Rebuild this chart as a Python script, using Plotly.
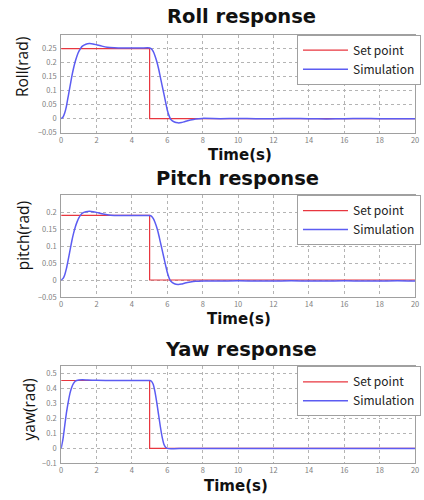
import plotly.graph_objects as go

# ---------------- data ----------------
t_set = [0, 5, 5, 20]
roll_set = [0.25, 0.25, 0, 0]
pitch_set = [0.19, 0.19, 0, 0]
yaw_set = [0.455, 0.455, 0, 0]

t_roll = [0, 0.1, 0.2, 0.3, 0.4, 0.5, 0.6, 0.7, 0.8, 0.9, 1.0, 1.1, 1.2, 1.4, 1.6,
          1.8, 2.0, 2.3, 2.6, 3.0, 3.5, 4.0, 4.5, 4.9, 5.0, 5.1, 5.2, 5.3, 5.4,
          5.5, 5.6, 5.7, 5.8, 5.9, 6.0, 6.1, 6.2, 6.4, 6.6, 6.8, 7.0, 7.3, 7.6,
          8.0, 9, 10, 11, 12, 13, 14, 15, 16, 17, 18, 19, 20]
roll_sim = [0, 0.005, 0.02, 0.045, 0.08, 0.115, 0.15, 0.18, 0.205, 0.225, 0.24,
            0.251, 0.259, 0.266, 0.268, 0.267, 0.264, 0.259, 0.255, 0.253, 0.252,
            0.252, 0.252, 0.253, 0.252, 0.249, 0.24, 0.225, 0.205, 0.18, 0.15,
            0.12, 0.09, 0.06, 0.03, 0.01, -0.003, -0.012, -0.015, -0.014, -0.01,
            -0.005, -0.001, 0.001, 0.0, 0.001, 0.0, 0.0, 0.001, 0.0, -0.001, 0.0,
            0.001, 0.0, 0.0, 0.0]

t_pitch = t_roll
pitch_sim = [0, 0.004, 0.015, 0.034, 0.06, 0.087, 0.114, 0.137, 0.156, 0.171,
             0.183, 0.191, 0.197, 0.201, 0.202, 0.201, 0.199, 0.195, 0.192, 0.19,
             0.19, 0.19, 0.19, 0.19, 0.19, 0.188, 0.181, 0.17, 0.155, 0.136, 0.113,
             0.09, 0.067, 0.044, 0.022, 0.006, -0.004, -0.011, -0.013, -0.012,
             -0.009, -0.006, -0.004, -0.003, -0.003, -0.002, -0.003, -0.003, -0.002,
             -0.003, -0.003, -0.002, -0.003, -0.003, -0.002, -0.003]

t_yaw = [0, 0.1, 0.2, 0.3, 0.4, 0.5, 0.6, 0.7, 0.8, 1.0, 1.2, 1.5, 2.0, 3.0, 4.0,
         4.9, 5.0, 5.1, 5.2, 5.3, 5.4, 5.5, 5.6, 5.7, 5.8, 5.9, 6.0, 6.2, 7, 8, 9,
         10, 11, 12, 13, 14, 15, 16, 17, 18, 19, 20]
yaw_sim = [0, 0.06, 0.15, 0.24, 0.31, 0.37, 0.41, 0.435, 0.45, 0.458, 0.46, 0.458,
           0.456, 0.455, 0.455, 0.455, 0.455, 0.45, 0.43, 0.38, 0.31, 0.23, 0.15,
           0.08, 0.03, 0.008, 0.0, -0.002, 0.0, -0.001, 0.0, 0.0, -0.001, 0.0, 0.0,
           -0.001, 0.0, 0.0, 0.0, -0.001, 0.0, 0.0]

x_ticks = [0, 2, 4, 6, 8, 10, 12, 14, 16, 18, 20]
roll_ticks = [-0.05, 0, 0.05, 0.1, 0.15, 0.2, 0.25]
pitch_ticks = [-0.05, 0, 0.05, 0.1, 0.15, 0.2]
yaw_ticks = [-0.1, 0, 0.1, 0.2, 0.3, 0.4, 0.5]

titles = ["Roll response", "Pitch response", "Yaw response"]
ylabels = ["Roll(rad)", "pitch(rad)", "yaw(rad)"]

# ---------------- layout helpers (pixels) ----------------
W, H = 424, 500
FONT = "Noto Sans CJK KR"
TFONT = "DejaVu Sans"
LFONT = "Open Sans"
RED = "#e8363f"
BLUE = "#5c5cf2"

def px(x):
    return x / W

def py(y):
    return 1 - y / H

panels = [
    dict(top=35, bottom=134, yr=[-0.05, 0.3], yt=roll_ticks, t=t_roll, sim=roll_sim,
         sp=roll_set, title_y=17, title_x=243, xt_y=157, xt_x=241, yl_x=21, yl_y=68),
    dict(top=197, bottom=300, yr=[-0.05, 0.25], yt=pitch_ticks, t=t_pitch, sim=pitch_sim,
         sp=pitch_set, title_y=180, title_x=239, xt_y=322, xt_x=240, yl_x=21, yl_y=238),
    dict(top=370, bottom=468, yr=[-0.1, 0.55], yt=yaw_ticks, t=t_yaw, sim=yaw_sim,
         sp=yaw_set, title_y=353, title_x=242, xt_y=491, xt_x=237, yl_x=27, yl_y=414),
]

fig = go.Figure()
annotations = []
layout = dict(width=W, height=H, margin=dict(l=0, r=0, t=0, b=0),
              paper_bgcolor="white", plot_bgcolor="white", font=dict(family=FONT))

for i, p in enumerate(panels):
    n = "" if i == 0 else str(i + 1)
    xa, ya = "x" + n, "y" + n
    leg = "legend" + n
    fig.add_trace(go.Scatter(x=t_set, y=p["sp"], mode="lines", name="Set point",
                             line=dict(color=RED, width=1.2), xaxis=xa, yaxis=ya,
                             legend=leg))
    fig.add_trace(go.Scatter(x=p["t"], y=p["sim"], mode="lines", name="Simulation",
                             line=dict(color=BLUE, width=1.5, shape="spline",
                                       smoothing=0.5),
                             xaxis=xa, yaxis=ya, legend=leg))
    axis_common = dict(showgrid=True, gridcolor="#b4b4b4", griddash="dot", gridwidth=1,
                       showline=True, linecolor="#a0a0a0", linewidth=1, mirror=True,
                       zeroline=False, ticks="", tickfont=dict(size=7.5, color="#808080"))
    layout["xaxis" + n] = dict(domain=[px(60), px(419)], range=[0, 20], tickvals=x_ticks,
                               anchor=ya, **axis_common)
    layout["yaxis" + n] = dict(domain=[py(p["bottom"]), py(p["top"])], range=p["yr"],
                               tickvals=p["yt"], anchor=xa, ticklabelstandoff=2,
                               **axis_common)
    layout[leg] = dict(x=px(425), xanchor="right", y=py(p["top"]), yanchor="top",
                       bgcolor="white", bordercolor="#a0a0a0", borderwidth=1,
                       font=dict(size=12, color="#222222", family=FONT),
                       tracegroupgap=0, itemwidth=45,
                       )
    annotations.append(dict(text="<b>%s</b>" % titles[i], x=px(p["title_x"]),
                            y=py(p["title_y"]), xref="paper", yref="paper",
                            showarrow=False, xanchor="center", yanchor="middle",
                            font=dict(size=19.5, color="#111111", family=TFONT)))
    annotations.append(dict(text="<b>Time(s)</b>", x=px(p["xt_x"]), y=py(p["xt_y"]),
                            xref="paper", yref="paper", showarrow=False,
                            xanchor="center", yanchor="middle",
                            font=dict(size=15, color="#111111", family=TFONT)))
    annotations.append(dict(text=ylabels[i], x=px(p["yl_x"]), y=py(p["yl_y"]),
                            xref="paper", yref="paper", showarrow=False, textangle=-90,
                            xanchor="center", yanchor="middle",
                            font=dict(size=15.5, color="#111111", family=LFONT)))

layout["annotations"] = annotations
fig.update_layout(**layout)
fig.write_html("out.html", config={"displayModeBar": False},
               post_script="document.body.style.margin='0';"
                           "document.body.style.overflow='hidden';")
